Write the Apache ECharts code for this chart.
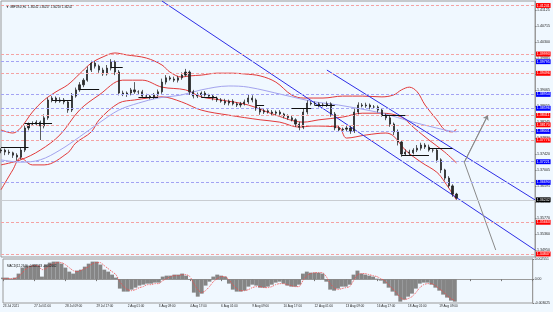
<!DOCTYPE html>
<html><head><meta charset="utf-8">
<script src="https://cdn.jsdelivr.net/npm/echarts@6/dist/echarts.min.js"></script>
<style>html,body{margin:0;padding:0;background:#F0F8FF;}#c{width:553px;height:312px;}</style>
</head><body><div id="c"></div>
<script>
// ---------- data ----------
const timeLabels = ['23 Jul 2021','27 Jul 01:00','28 Jul 09:00','29 Jul 17:00','2 Aug 01:00','3 Aug 09:00','4 Aug 17:00','6 Aug 01:00','9 Aug 09:00','10 Aug 17:00','12 Aug 01:00','13 Aug 09:00','16 Aug 17:00','18 Aug 01:00','19 Aug 09:00'];
const firstOpen = 1.3750;
const closes = [
1.3752,1.3747,1.3745,1.3739,1.3734,1.3752,1.3809,1.3819,1.3819,1.3824,
1.3814,1.3835,1.3881,1.3886,1.3878,1.3881,1.3876,1.3855,1.3891,1.3907,
1.3920,1.3932,1.3958,1.3976,1.3968,1.3958,1.3948,1.3963,1.3979,1.3953,
1.3899,1.3896,1.3899,1.3907,1.3902,1.3902,1.3891,1.3891,1.3889,1.3894,
1.3902,1.3927,1.3938,1.3935,1.3932,1.3938,1.3945,1.3953,1.3902,1.3891,
1.3894,1.3899,1.3894,1.3891,1.3886,1.3881,1.3878,1.3873,1.3878,1.3871,
1.3868,1.3871,1.3876,1.3886,1.3881,1.3858,1.3850,1.3853,1.3850,1.3847,
1.3850,1.3845,1.3840,1.3835,1.3830,1.3819,1.3811,1.3850,1.3873,1.3871,
1.3871,1.3868,1.3868,1.3871,1.3845,1.3809,1.3804,1.3806,1.3809,1.3801,
1.3850,1.3868,1.3866,1.3868,1.3863,1.3863,1.3855,1.3842,1.3835,1.3819,
1.3799,1.3773,1.3742,1.3747,1.3745,1.3752,1.3757,1.3765,1.3760,1.3752,
1.3752,1.3727,1.3701,1.3680,1.3660,1.3639,1.3629];
const upWick = [
5,4,6,3,5,8,6,4,7,5, 4,9,6,5,4,7,5,4,8,6, 7,5,9,6,5,4,6,8,7,4,
5,6,4,5,20,4,5,6,3,5, 6,9,7,5,6,5,7,8,4,5, 6,4,5,3,5,4,5,6,4,5,
4,5,6,8,7,4,5,6,4,5, 4,5,3,4,5,4,6,9,7,5, 6,4,5,6,4,5,6,4,5,6,
9,7,5,6,4,5,4,5,4,5, 4,6,5,7,6,5,8,6,5,6, 4,5,4,3,5,4,3];
const downWick = [
6,8,5,7,9,6,5,6,4,5, 36,6,5,6,5,4,6,7,5,4, 5,6,4,5,6,7,5,4,6,8,
6,5,7,6,5,6,4,5,6,5, 4,5,6,4,5,6,5,4,8,6, 5,6,4,5,6,5,4,5,6,4,
5,6,4,5,6,5,7,5,4,6, 5,4,6,5,4,7,8,5,6,4, 5,6,4,5,7,6,5,4,6,7,
5,6,4,5,6,5,6,4,6,7, 8,9,7,5,6,4,5,6,5,4, 6,7,8,6,5,7,4];
const PIP = 0.0001;
const upperBand = [[0,1.3804],[3,1.3796],[5,1.3809],[8,1.3850],[11,1.3881],[14,1.3902],[17,1.3920],[20,1.3948],[23,1.3976],[26,1.3992],[29,1.4002],[32,1.3997],[37,1.3989],[41,1.3971],[43,1.3953],[46,1.3940],[48,1.3943],[51,1.3945],[55,1.3950],[59,1.3950],[62,1.3948],[66,1.3943],[70,1.3927],[74,1.3894],[77,1.3886],[82,1.3886],[87,1.3891],[92,1.3891],[97,1.3889],[100,1.3894],[102,1.3907],[104,1.3914],[106,1.3902],[108,1.3868],[111,1.3830],[113,1.3804],[115,1.3799],[116,1.3806]];
const middleBand = [[0,1.3714],[5,1.3727],[10,1.3752],[15,1.3791],[20,1.3855],[25,1.3894],[31,1.3932],[36,1.3932],[41,1.3914],[47,1.3907],[51,1.3889],[56,1.3881],[63,1.3868],[70,1.3842],[77,1.3824],[81,1.3830],[87,1.3837],[92,1.3847],[97,1.3847],[102,1.3837],[105,1.3811],[109,1.3778],[113,1.3747],[116,1.3719]];
const lowerBand = [[0,1.3650],[3,1.3701],[5,1.3732],[8,1.3714],[11,1.3714],[17,1.3745],[19,1.3770],[23,1.3799],[25,1.3830],[30,1.3873],[34,1.3881],[41,1.3889],[46,1.3876],[51,1.3855],[58,1.3842],[66,1.3830],[71,1.3824],[76,1.3811],[79,1.3814],[86,1.3811],[88,1.3783],[93,1.3791],[98,1.3796],[100,1.3788],[103,1.3752],[107,1.3721],[111,1.3695],[113,1.3670],[116,1.3624]];
const maLine = [[0,1.3727],[5,1.3721],[10,1.3727],[15,1.3752],[20,1.3786],[25,1.3822],[30,1.3855],[35,1.3873],[40,1.3886],[46,1.3894],[51,1.3907],[58,1.3917],[63,1.3914],[72,1.3894],[80,1.3876],[86,1.3868],[97,1.3847],[105,1.3824],[113,1.3804],[116,1.3799]];
const macdHist = [
0.00019,0.00019,0.00006,0.00019,0.0007,0.00146,0.00171,0.00171,0.00184,0.00171,
0.00032,0.00184,0.00209,0.00222,0.00222,0.00196,0.00146,0.00095,0.0007,0.00108,
0.0012,0.00158,0.00196,0.00222,0.00222,0.00184,0.0012,0.00095,0.00057,0.00019,
-0.0012,-0.00158,-0.00158,-0.00133,-0.00108,-0.00082,-0.0007,-0.00057,-0.00057,-0.00044,
-0.00044,0.00032,0.00044,0.00044,0.00057,0.00057,0.0007,0.00044,-0.00006,-0.00171,
-0.00222,-0.00184,-0.00082,-0.00032,0.00032,0.00057,0.00044,0.00032,-0.00057,-0.00133,
-0.00158,-0.00158,-0.00146,-0.00095,-0.0007,-0.00082,-0.00108,-0.00108,-0.00095,-0.0007,
-0.00044,-0.00032,-0.00057,-0.00082,-0.00095,-0.00095,-0.0007,0.0007,0.00095,0.00082,
0.00082,0.00082,0.0007,-0.00032,-0.00133,-0.00146,-0.0012,-0.00095,-0.00095,-0.0007,
0.00057,0.00108,0.0007,0.00057,0.00044,0.00032,0.00006,-0.00019,-0.00057,-0.00108,
-0.00158,-0.00209,-0.00285,-0.0026,-0.00222,-0.00184,-0.0012,-0.00057,-0.00044,-0.00044,
-0.0007,-0.00108,-0.00146,-0.00196,-0.00234,-0.00272,-0.00285];
const macdSignal = [
0.00006,0.00006,0.00006,0.00006,0.00032,0.00082,0.00133,0.00158,0.00171,0.00171,
0.0012,0.00133,0.00171,0.00196,0.00209,0.00209,0.00184,0.00146,0.00108,0.00095,
0.00108,0.00133,0.00158,0.00196,0.00209,0.00209,0.00171,0.00133,0.00095,0.00057,
-0.00032,-0.00095,-0.00133,-0.00146,-0.00133,-0.00108,-0.00095,-0.0007,-0.0007,-0.00057,
-0.00057,-0.00019,0.00006,0.00032,0.00044,0.00044,0.00057,0.00057,0.00032,-0.00057,
-0.00133,-0.00171,-0.00146,-0.00095,-0.00032,0.00006,0.00032,0.00032,-0.00006,-0.0007,
-0.0012,-0.00146,-0.00146,-0.00133,-0.00108,-0.00095,-0.00095,-0.00108,-0.00108,-0.00095,
-0.0007,-0.00057,-0.00057,-0.0007,-0.00082,-0.00095,-0.00095,-0.00019,0.00044,0.0007,
0.00082,0.00082,0.00082,0.00032,-0.00057,-0.00108,-0.00133,-0.0012,-0.00108,-0.00095,
-0.00019,0.00057,0.0007,0.0007,0.00057,0.00044,0.00032,0.00006,-0.00019,-0.0007,
-0.0012,-0.00171,-0.00234,-0.0026,-0.00247,-0.00222,-0.00171,-0.00108,-0.0007,-0.00057,
-0.00057,-0.00082,-0.0012,-0.00158,-0.00209,-0.00247,-0.00272];
const priceTicks = ['1.41125','1.40715','1.40300','1.39885','1.39475','1.39065','1.38655','1.38245','1.37830','1.37420','1.37005','1.36595','1.36180','1.35770','1.35360','1.34950'];
const macdTicks = [0.002551, 0, -0.003025];
const redLevels = [1.41241, 1.39993, 1.39496, 1.38411, 1.38170, 1.37776, 1.35663, 1.34847];
const blueLevels = [1.39795, 1.38954, 1.38596, 1.38001, 1.37221, 1.36690];
const currentPrice = 1.36242;
const levelSegs = [[0,7,1.3760],[6,13,1.3822],[13,18,1.3881],[20,25,1.3909],[28,31,1.3966],[35,40,1.3889],[51,55,1.3889],[65,67,1.3868],[74,79,1.3860],[80,85,1.3868],[97,103,1.3842],[102,109,1.3739],[109,115,1.3757]];
const channelLines = [[[41,1.41356],[136,1.3495]], [[83,1.3958],[136,1.3624]]];
const arrowUp = [[118,1.3721],[124,1.3842]];
const arrowDown = [[118,1.3721],[126,1.3495]];
const titleMain = '\u25BC GBPUSD,H1  1.36242 1.36257 1.36218 1.36242';
const titleMacd = 'MACD(12,26,9) -0.002533 -0.002662';
const N_CAT = 137;

// ---------- build ----------
const cats = Array.from({length: N_CAT}, (_, i) => String(i));
const candles = closes.map((c, i) => {
  const o = i ? closes[i - 1] : firstOpen;
  return [o, c, Math.min(o, c) - downWick[i] * PIP, Math.max(o, c) + upWick[i] * PIP];
});
const FONT = 'Liberation Sans';
const boxLabel = (v, bg) => ({show: true, position: 'end', distance: 1, formatter: () => v.toFixed(5),
  color: '#fff', backgroundColor: bg, fontSize: 3.6, fontFamily: FONT, padding: [0.6, 0.8, 0.3, 0.8]});
const levelLine = (v, lc, bg) => ({
  yAxis: v,
  lineStyle: {color: lc, type: [3, 2], width: 1},
  label: boxLabel(v, bg)
});
const mlData = [];
redLevels.forEach(v => mlData.push(levelLine(v, '#F4A3A3', '#FF0000')));
blueLevels.forEach(v => mlData.push(levelLine(v, '#A3A3F4', '#0000FF')));
mlData.push({yAxis: currentPrice, lineStyle: {color: '#C9CDD2', type: 'solid', width: 1}, label: boxLabel(currentPrice, '#000')});
levelSegs.forEach(s => mlData.push([
  {coord: [s[0], s[2]], lineStyle: {color: '#111', type: 'solid', width: 1}, label: {show: false}},
  {coord: [s[1], s[2]]}
]));

const bandStyle = (data, color) => ({
  type: 'line', xAxisIndex: 0, yAxisIndex: 0, data, smooth: 0.35, symbol: 'none',
  lineStyle: {color, width: 1}, silent: true, z: 3
});

const option = {
  animation: false,
  backgroundColor: '#F0F8FF',
  title: [
    {text: titleMain, left: 1, top: 1, textStyle: {fontSize: 2.9, fontWeight: 'normal', color: '#111', fontFamily: FONT}},
    {text: titleMacd, left: 2, top: 260, textStyle: {fontSize: 3, fontWeight: 'normal', color: '#111', fontFamily: FONT}}
  ],
  grid: [
    {left: 1, right: 18, top: 1, height: 256, show: true, borderColor: '#9a9a9a', borderWidth: 1, backgroundColor: 'transparent'},
    {left: 1, right: 18, top: 259, height: 44, show: true, borderColor: '#9a9a9a', borderWidth: 1, backgroundColor: 'transparent'}
  ],
  xAxis: [
    {gridIndex: 0, type: 'category', data: cats, boundaryGap: false,
      axisLine: {show: false}, axisTick: {show: false}, axisLabel: {show: false}, splitLine: {show: false}},
    {gridIndex: 1, type: 'category', data: cats, boundaryGap: false,
      axisLine: {show: true, lineStyle: {color: '#9a9a9a'}},
      axisTick: {show: true, interval: 7, length: 2, lineStyle: {color: '#777'}},
      axisLabel: {show: true, interval: 7, align: 'left', margin: 1.5, fontSize: 3.1, color: '#222', fontFamily: FONT,
        formatter: (v, idx) => (idx % 8 === 0 && timeLabels[idx / 8]) ? timeLabels[idx / 8] : ''},
      splitLine: {show: false}}
  ],
  yAxis: [
    {gridIndex: 0, type: 'value', position: 'right', min: 1.3477, max: 1.41357, scale: true,
      splitLine: {show: false},
      axisLine: {show: true, lineStyle: {color: '#9a9a9a'}},
      axisTick: {show: true, length: 1.5, customValues: priceTicks.map(Number), lineStyle: {color: '#777'}},
      axisLabel: {show: true, customValues: priceTicks.map(Number), formatter: v => v.toFixed(5),
        margin: 2, fontSize: 3.6, color: '#222', fontFamily: FONT}},
    {gridIndex: 1, type: 'value', position: 'right', min: -0.003025, max: 0.002551,
      splitLine: {show: false},
      axisLine: {show: true, lineStyle: {color: '#9a9a9a'}},
      axisTick: {show: true, length: 1.5, customValues: macdTicks, lineStyle: {color: '#777'}},
      axisLabel: {show: true, customValues: macdTicks, formatter: v => v === 0 ? '0.00' : v.toFixed(6),
        margin: 2, fontSize: 3.4, color: '#222', fontFamily: FONT}}
  ],
  series: [
    {type: 'candlestick', xAxisIndex: 0, yAxisIndex: 0, data: candles, barWidth: 1.6, silent: true, z: 4,
      itemStyle: {color: '#2b2b2b', color0: '#2b2b2b', borderColor: '#1a1a1a', borderColor0: '#1a1a1a', borderWidth: 0.7},
      markLine: {silent: true, precision: 6, symbol: ['none', 'none'], animation: false, z: 5, data: mlData}},
    bandStyle(upperBand, '#E23A3A'),
    bandStyle(middleBand, '#E23A3A'),
    bandStyle(lowerBand, '#E23A3A'),
    bandStyle(maLine, '#A3A3EE'),
    {type: 'line', xAxisIndex: 0, yAxisIndex: 0, data: channelLines[0], symbol: 'none', silent: true, z: 3,
      lineStyle: {color: '#2D2DE6', width: 1}},
    {type: 'line', xAxisIndex: 0, yAxisIndex: 0, data: channelLines[1], symbol: 'none', silent: true, z: 3,
      lineStyle: {color: '#2D2DE6', width: 1}},
    {type: 'line', xAxisIndex: 0, yAxisIndex: 0, data: arrowDown, symbol: 'none', silent: true, z: 3,
      lineStyle: {color: '#8a8a8a', width: 1}},
    {type: 'line', xAxisIndex: 0, yAxisIndex: 0, data: arrowUp, symbol: 'none', silent: true, z: 3,
      lineStyle: {color: '#8a8a8a', width: 1},
      markLine: {silent: true, precision: 6, symbol: ['none', 'arrow'], symbolSize: 5, label: {show: false},
        lineStyle: {color: '#8a8a8a', width: 1, type: 'solid'},
        data: [[{coord: arrowUp[0]}, {coord: arrowUp[1]}]]}},
    {type: 'bar', xAxisIndex: 1, yAxisIndex: 1, data: macdHist, barCategoryGap: '0%', barGap: '0%', silent: true,
      itemStyle: {color: '#858585'}},
    {type: 'line', xAxisIndex: 1, yAxisIndex: 1, data: macdSignal, symbol: 'none', silent: true, smooth: 0.2,
      lineStyle: {color: '#F04A4A', width: 0.8, type: [1.5, 1]}}
  ]
};
echarts.init(document.getElementById('c'), null, {renderer: 'canvas'}).setOption(option);
</script>
</body></html>
